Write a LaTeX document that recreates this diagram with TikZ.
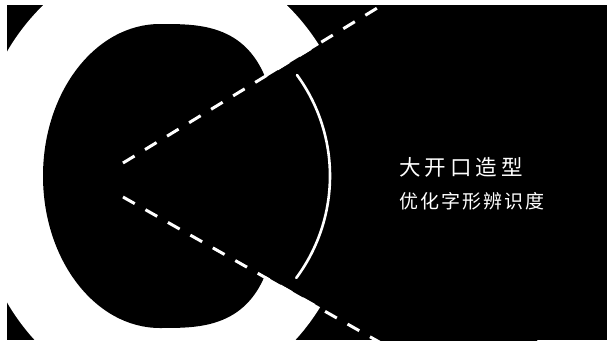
\documentclass[tikz,border=0pt]{standalone}
\usepackage{fontspec}
\newfontfamily\cjk{Noto Sans CJK SC}
\usetikzlibrary{calc}
\tikzset{
  dashline/.style={white, line width=3pt, dash pattern=on 13.5pt off 12.3pt},
  thinarc/.style={white, line width=2.6pt, line cap=round},
  title/.style={white, anchor=base west, inner sep=0pt, font=\cjk\fontsize{21.5}{21.5}\selectfont},
  subtitle/.style={white, anchor=base west, inner sep=0pt, font=\cjk\fontsize{19}{19}\selectfont}
}
\begin{document}
\begin{tikzpicture}[x=1pt,y=-1pt]
\useasboundingbox (0,0) rectangle (607,343);
\fill[white] (0,0) rectangle (607,343);
\begin{scope}
\clip (7,5) rectangle (607,340);
\fill[black] (7,5) rectangle (607,340);
% outer white shape of the C
\fill[white] (165,177) ellipse [x radius=191, y radius=223];
% inner counter: elliptic left half, squarer right half
\fill[black] (160,24)
  -- plot[domain=-90:0, samples=40, variable=\t]
     ({160+117*pow(abs(cos(\t))+0.000001,2/3)}, {176-152*pow(abs(sin(\t))+0.000001,2/3)})
  -- plot[domain=0:90, samples=40, variable=\t]
     ({160+117*pow(abs(cos(\t))+0.000001,2/3)}, {176+152*pow(abs(sin(\t))+0.000001,2/3)})
  -- (160,328) arc[start angle=90, end angle=270, x radius=117, y radius=152] -- cycle;
% wedge opening
\coordinate (u0) at (123,163);
\coordinate (u1) at (374,10);
\coordinate (l0) at (123,197);
\coordinate (l1) at (358,330);
\fill[black] ($(u0)+(0,1.5)$) -- ($(u0)!1.5!(u1)+(0,1.5)$) -- ($(l0)!1.8!(l1)+(0,-1.5)$) -- ($(l0)+(0,-1.5)$) -- cycle;
% thin arc
\draw[thinarc] (159,176) ++(-36.2:171) arc[start angle=-36.2, end angle=36.6, radius=171];
% dashed lines
\draw[dashline] (u0) -- ($(u0)!1.2!(u1)$);
\draw[dashline] (l0) -- ($(l0)!1.2!(l1)$);
\end{scope}
\node[title] (t1) at (399,175.5) {大\kern4pt开\kern4pt口\kern4pt造\kern4pt型};
\node[subtitle] (t2) at (399,208.5) {优\kern2pt化\kern2pt字\kern2pt形\kern2pt辨\kern2pt识\kern2pt度};
\end{tikzpicture}
\end{document}
